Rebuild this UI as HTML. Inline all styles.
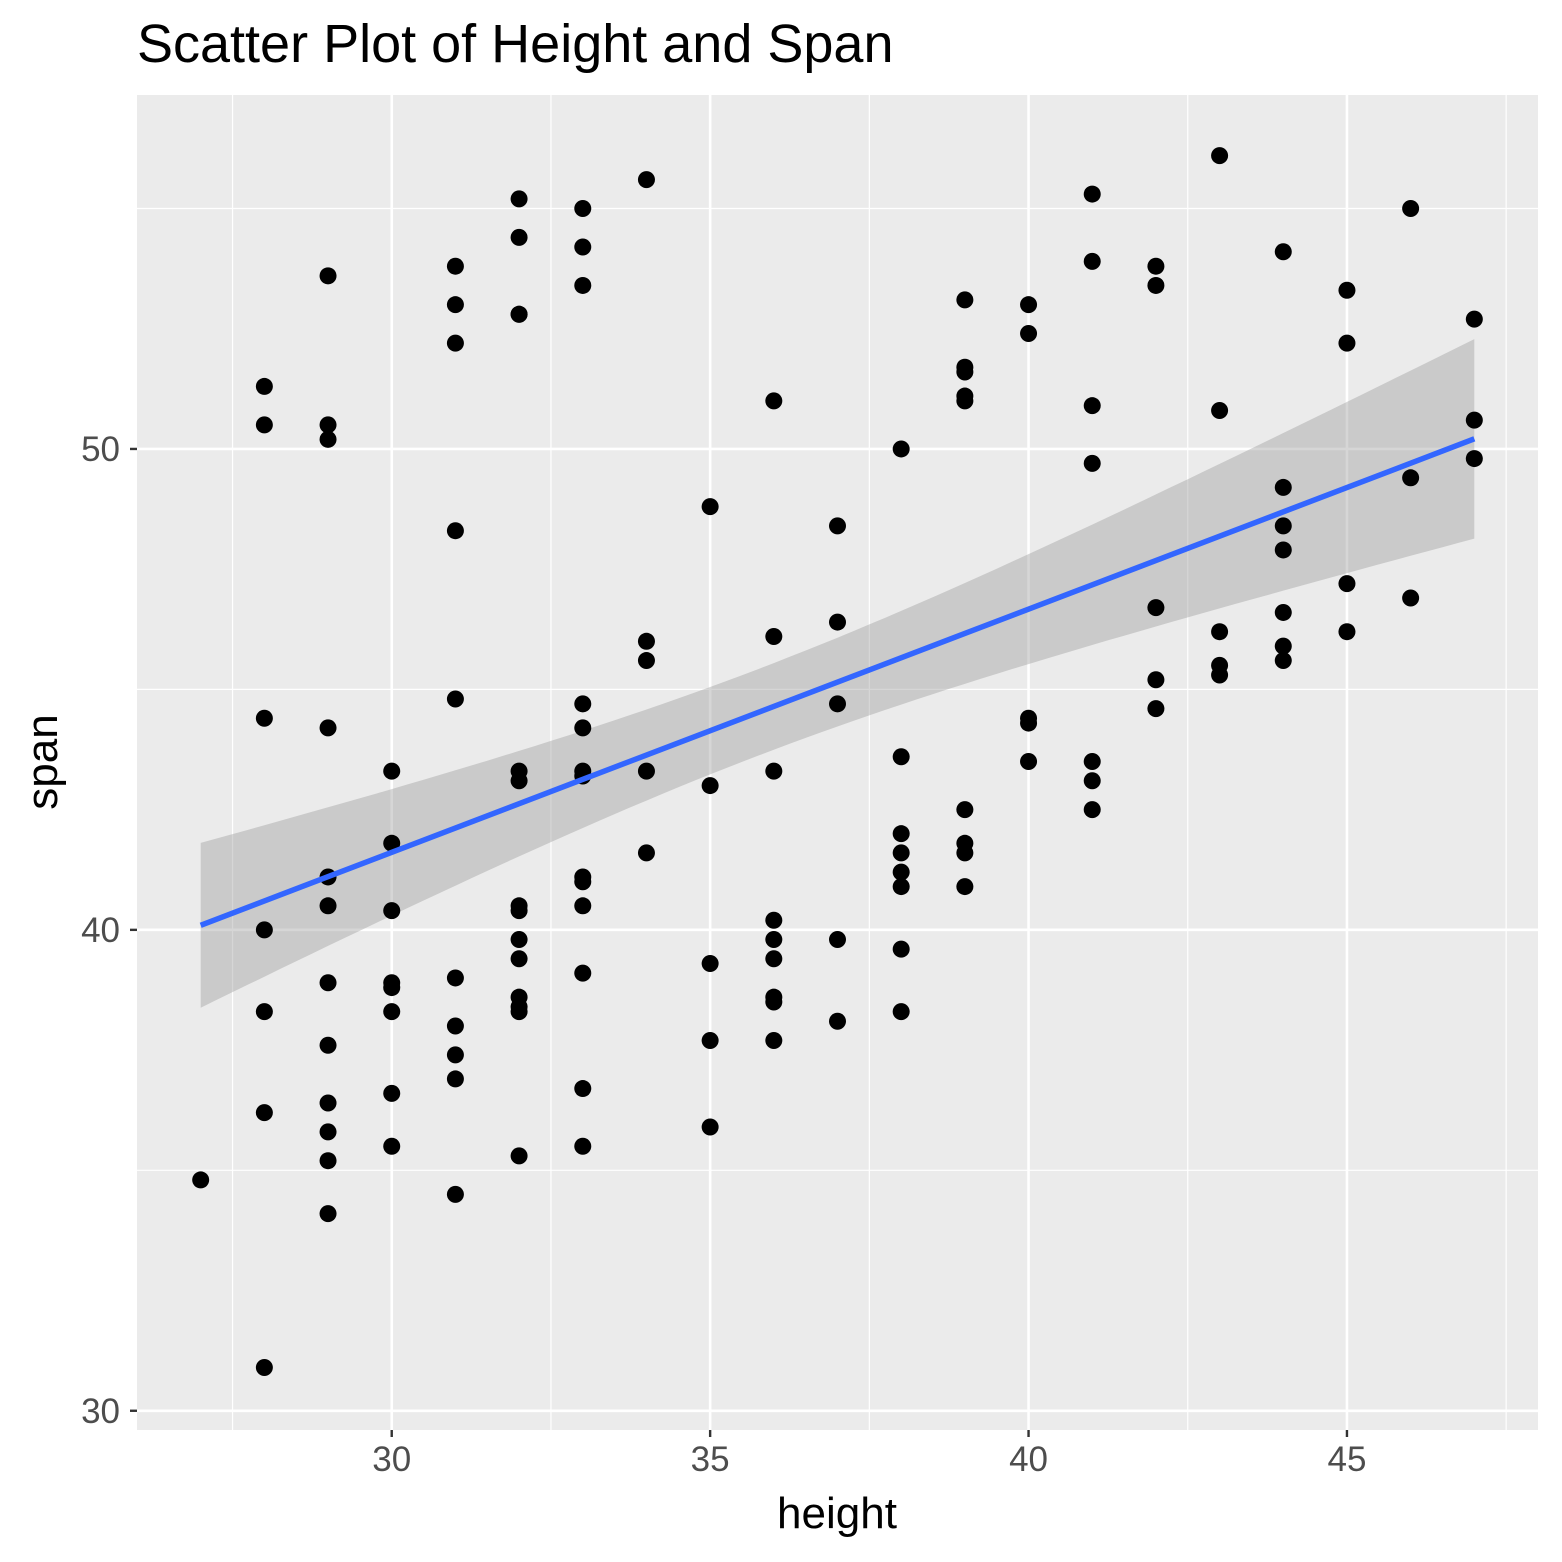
<!DOCTYPE html>
<html><head><meta charset="utf-8">
<style>
html,body{margin:0;padding:0;background:#fff;}
svg{display:block;font-family:"Liberation Sans",Arial,sans-serif;}
</style></head>
<body>
<svg id="chart" width="1562" height="1562" viewBox="0 0 1562 1562" xmlns="http://www.w3.org/2000/svg">
<text x="137" y="62" font-size="54" fill="#000">Scatter Plot of Height and Span</text>
<rect x="137" y="95" width="1401" height="1335" fill="#ebebeb"/>
<g id="grid"></g>
<g id="band"></g>
<g id="pts"></g>
<g id="fit"></g>
<g id="axes"></g>
<text x="837" y="1528" font-size="44" text-anchor="middle" fill="#000">height</text>
<text transform="translate(57,762) rotate(-90)" font-size="44" text-anchor="middle" fill="#000">span</text>
</svg>
<script>
const heights = [27,
28,28,28,28,28,28,28,
29,29,29,29,29,29,29,29,29,29,29,29,
30,30,30,30,30,30,30,30,
31,31,31,31,31,31,31,31,31,31,
32,32,32,32,32,32,32,32,32,32,32,32,32,32,
33,33,33,33,33,33,33,33,33,33,33,33,33,
34,34,34,34,34,
35,35,35,35,35,
36,36,36,36,36,36,36,36,36,
37,37,37,37,37,
38,38,38,38,38,38,38,38,
39,39,39,39,39,39,39,39,39,
40,40,40,40,40,
41,41,41,41,41,41,41,
42,42,42,42,42,
43,43,43,43,43,
44,44,44,44,44,44,44,
45,45,45,45,
46,46,46,
47,47,47];
const spans = [34.8,
51.3,50.5,44.4,40.0,38.3,36.2,30.9,
53.6,50.5,50.2,44.2,41.1,40.5,38.9,37.6,36.4,35.8,35.2,34.1,
43.3,41.8,40.4,38.9,38.8,38.3,36.6,35.5,
53.8,53.0,52.2,48.3,44.8,39.0,38.0,37.4,36.9,34.5,
55.2,54.4,52.8,52.8,43.3,43.1,40.5,40.4,39.8,39.4,38.6,38.4,38.3,35.3,
55.0,54.2,53.4,44.7,44.2,43.3,43.2,41.1,41.0,40.5,39.1,36.7,35.5,
55.6,46.0,45.6,43.3,41.6,
48.8,43.0,39.3,37.7,35.9,
51.0,46.1,43.3,40.2,39.8,39.4,38.6,38.5,37.7,
48.4,46.4,44.7,39.8,38.1,
50.0,43.6,42.0,41.6,41.2,40.9,39.6,38.3,
53.1,51.7,51.6,51.1,51.0,42.5,41.8,41.6,40.9,
53.0,52.4,44.4,44.3,43.5,
55.3,53.9,50.9,49.7,43.5,43.1,42.5,
53.8,53.4,46.7,45.2,44.6,
56.1,50.8,46.2,45.5,45.3,
54.1,49.2,48.4,47.9,46.6,45.9,45.6,
53.3,52.2,47.2,46.2,
55.0,49.4,46.9,
52.7,50.6,49.8];
const xTicks = [30,35,40,45];
const xMinor = [27.5,32.5,37.5,42.5,47.5];
const yTicks = [30,40,50];
const yMinor = [35,45,55];

const NS="http://www.w3.org/2000/svg";
const PL=137,PR=1538,PT=95,PB=1430;
const XMIN=26.0,XMAX=48.0,YMIN=29.6,YMAX=57.36;
const sx=v=>PL+(v-XMIN)/(XMAX-XMIN)*(PR-PL);
const sy=v=>PB-(v-YMIN)/(YMAX-YMIN)*(PB-PT);
function mk(tag,attrs,parent){const e=document.createElementNS(NS,tag);for(const k in attrs)e.setAttribute(k,attrs[k]);parent.appendChild(e);return e;}

const grid=document.getElementById('grid');
xMinor.forEach(v=>{const l=mk('line',{x1:sx(v),x2:sx(v),y1:PT,y2:PB,stroke:'#fff','stroke-width':1.2},grid);

});
yMinor.forEach(v=>{const l=mk('line',{x1:PL,x2:PR,y1:sy(v),y2:sy(v),stroke:'#fff','stroke-width':1.2},grid);

});
xTicks.forEach(v=>{const l=mk('line',{x1:sx(v),x2:sx(v),y1:PT,y2:PB,stroke:'#fff','stroke-width':2.6},grid);

});
yTicks.forEach(v=>{const l=mk('line',{x1:PL,x2:PR,y1:sy(v),y2:sy(v),stroke:'#fff','stroke-width':2.6},grid);

});

const axes=document.getElementById('axes');
xTicks.forEach(v=>{const t=mk('line',{x1:sx(v),x2:sx(v),y1:PB,y2:PB+7,stroke:'#333','stroke-width':2.4},axes);


const tx=mk('text',{x:sx(v),y:PB+41,'font-size':35,'text-anchor':'middle',fill:'#4d4d4d'},axes);tx.textContent=v;

});
yTicks.forEach(v=>{const t=mk('line',{x1:PL-7,x2:PL,y1:sy(v),y2:sy(v),stroke:'#333','stroke-width':2.4},axes);


const tx=mk('text',{x:PL-17,y:sy(v)+12,'font-size':35,'text-anchor':'end',fill:'#4d4d4d'},axes);tx.textContent=v;

});

// regression
const n=heights.length;
const mx=heights.reduce((a,b)=>a+b,0)/n, my=spans.reduce((a,b)=>a+b,0)/n;
let sxx=0,sxy=0;for(let i=0;i<n;i++){sxx+=(heights[i]-mx)**2;sxy+=(heights[i]-mx)*(spans[i]-my);}
const b1=sxy/sxx,b0=my-b1*mx;
let sse=0;for(let i=0;i<n;i++){sse+=(spans[i]-b0-b1*heights[i])**2;}
const sig=Math.sqrt(sse/(n-2)), tq=1.98;
const hx0=Math.min(...heights),hx1=Math.max(...heights);
const up=[],lo=[];
for(let k=0;k<=80;k++){const x=hx0+(hx1-hx0)*k/80;const f=b0+b1*x;const se=sig*Math.sqrt(1/n+(x-mx)**2/sxx);
up.push(sx(x).toFixed(1)+','+sy(f+tq*se).toFixed(1));lo.unshift(sx(x).toFixed(1)+','+sy(f-tq*se).toFixed(1));}
const band=mk('polygon',{points:up.concat(lo).join(' '),fill:'#999','fill-opacity':0.4},document.getElementById('band'));



const pts=document.getElementById('pts');
for(let i=0;i<n;i++){const c=mk('circle',{cx:sx(heights[i]),cy:sy(spans[i]),r:8.5,fill:'#000'},pts);

}

const fl=mk('line',{x1:sx(hx0),y1:sy(b0+b1*hx0),x2:sx(hx1),y2:sy(b0+b1*hx1),stroke:'#3366ff','stroke-width':5.5},document.getElementById('fit'));


</script>
</body></html>
